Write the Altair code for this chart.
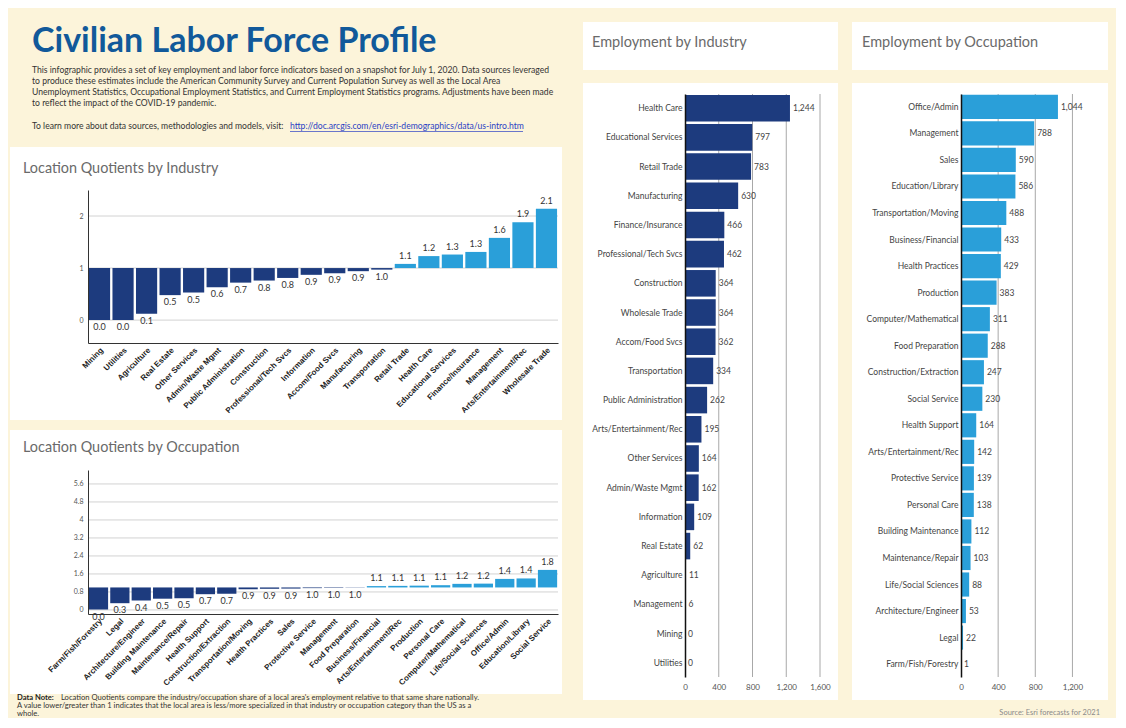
import altair as alt
import pandas as pd

# ---------------- data ----------------
main_title = "Civilian Labor Force Profile"
intro_lines = [
    "This infographic provides a set of key employment and labor force indicators based on a snapshot for July 1, 2020. Data sources leveraged",
    "to produce these estimates include the American Community Survey and Current Population Survey as well as the Local Area",
    "Unemployment Statistics, Occupational Employment Statistics, and Current Employment Statistics programs. Adjustments have been made",
    "to reflect the impact of the COVID-19 pandemic.",
]
learn_prefix = "To learn more about data sources, methodologies and models, visit:"
learn_link = "http://doc.arcgis.com/en/esri-demographics/data/us-intro.htm"
note_bold = "Data Note:"
note_lines = [
    "Location Quotients compare the industry/occupation share of a local area's employment relative to that same share nationally.",
    "A value lower/greater than 1 indicates that the local area is less/more specialized in that industry or occupation category than the US as a",
    "whole.",
]
source_text = "Source: Esri forecasts for 2021"

ind_lq_names = ["Mining", "Utilities", "Agriculture", "Real Estate", "Other Services",
                "Admin/Waste Mgmt", "Public Administration", "Construction",
                "Professional/Tech Svcs", "Information", "Accom/Food Svcs", "Manufacturing",
                "Transportation", "Retail Trade", "Health Care", "Educational Services",
                "Finance/Insurance", "Management", "Arts/Entertainment/Rec", "Wholesale Trade"]
ind_lq_vals = [0.0, 0.0, 0.12, 0.48, 0.53, 0.63, 0.72, 0.76, 0.81, 0.87, 0.9, 0.94,
               0.97, 1.08, 1.23, 1.26, 1.31, 1.58, 1.88, 2.14]

occ_lq_names = ["Farm/Fish/Forestry", "Legal", "Architecture/Engineer", "Building Maintenance",
                "Maintenance/Repair", "Health Support", "Construction/Extraction",
                "Transportation/Moving", "Health Practices", "Sales", "Protective Service",
                "Management", "Food Preparation", "Business/Financial", "Arts/Entertainment/Rec",
                "Production", "Personal Care", "Computer/Mathematical", "Life/Social Sciences",
                "Office/Admin", "Education/Library", "Social Service"]
occ_lq_vals = [0.02, 0.3, 0.42, 0.5, 0.52, 0.7, 0.72, 0.92, 0.94, 0.95, 0.97, 0.98, 0.99,
               1.06, 1.07, 1.08, 1.1, 1.16, 1.17, 1.38, 1.4, 1.78]

ind_emp_names = ["Health Care", "Educational Services", "Retail Trade", "Manufacturing",
                 "Finance/Insurance", "Professional/Tech Svcs", "Construction", "Wholesale Trade",
                 "Accom/Food Svcs", "Transportation", "Public Administration",
                 "Arts/Entertainment/Rec", "Other Services", "Admin/Waste Mgmt", "Information",
                 "Real Estate", "Agriculture", "Management", "Mining", "Utilities"]
ind_emp_vals = [1244, 797, 783, 630, 466, 462, 364, 364, 362, 334, 262, 195, 164, 162, 109,
                62, 11, 6, 0, 0]

occ_emp_names = ["Office/Admin", "Management", "Sales", "Education/Library",
                 "Transportation/Moving", "Business/Financial", "Health Practices", "Production",
                 "Computer/Mathematical", "Food Preparation", "Construction/Extraction",
                 "Social Service", "Health Support", "Arts/Entertainment/Rec",
                 "Protective Service", "Personal Care", "Building Maintenance",
                 "Maintenance/Repair", "Life/Social Sciences", "Architecture/Engineer", "Legal",
                 "Farm/Fish/Forestry"]
occ_emp_vals = [1044, 788, 590, 586, 488, 433, 429, 383, 311, 288, 247, 230, 164, 142, 139,
                138, 112, 103, 88, 53, 22, 1]

ind_lq_ticks = [0, 1, 2]
occ_lq_ticks = [0, 0.8, 1.6, 2.4, 3.2, 4, 4.8, 5.6]
ind_emp_ticks = [0, 400, 800, 1200, 1600]
occ_emp_ticks = [0, 400, 800, 1200]

# ---------------- style ----------------
CREAM = "#fcf4da"
NAVY = "#1d3b7e"
LIGHT = "#2a9fd9"
TITLE_BLUE = "#11599a"
PANEL_TITLE = "#6a6a6a"
LINK_BLUE = "#2b3fc4"
FONT = "Lato"

one = pd.DataFrame({"k": [0]})


def panel(x1, x2, y1, y2, fill="white"):
    return alt.Chart(one).mark_rect(fill=fill).encode(
        x=alt.value(x1), x2=alt.value(x2), y=alt.value(y1), y2=alt.value(y2))


def label(text, x, y, **kw):
    return alt.Chart(one).mark_text(text=text, **kw).encode(x=alt.value(x), y=alt.value(y))


# ---------------- header (origin aligned with the plots: page x=88, y=94) ----------------
header = alt.layer(
    panel(-78, 481, -72, 43, fill=CREAM),
    label(main_title, -56, -42, font=FONT, fontSize=34, fontWeight="bold", color=TITLE_BLUE,
          align="left", baseline="alphabetic"),
    label(intro_lines, -56, -28, font=FONT, fontSize=8.6, color="#333", align="left",
          baseline="top", lineHeight=11),
    label(learn_prefix, -56, 32, font=FONT, fontSize=8.6, color="#333", align="left",
          baseline="middle"),
    label(learn_link, 202, 32, font=FONT, fontSize=8.6, color=LINK_BLUE, align="left",
          baseline="middle"),
    alt.Chart(one).mark_rule(color=LINK_BLUE, strokeWidth=0.7).encode(
        x=alt.value(202), x2=alt.value(435), y=alt.value(37.5)),
).properties(width=470, height=43)


# ---------------- location quotient charts ----------------
def lq_chart(names, vals, ticks, title, width, height, domain, rect, title_xy, extra):
    df = pd.DataFrame({"name": names, "v": vals})
    xax = alt.Axis(title=None, labelAngle=-45, ticks=False, domainColor="#333",
                   labelFont="Liberation Sans", labelFontSize=8, labelFontWeight="bold",
                   labelColor="#222", labelPadding=3, zindex=1, labelLimit=200)
    yax = alt.Axis(title=None, values=ticks, format=".1~f", ticks=False, domainColor="#333",
                   labelFont=FONT, labelFontSize=7, labelColor="#555", labelPadding=5,
                   grid=False, zindex=1)
    xenc = alt.X("name:N", sort=names, axis=xax,
                 scale=alt.Scale(paddingInner=0.1, paddingOuter=0.04))
    ysc = alt.Scale(domain=domain, nice=False, zero=False)
    yenc = alt.Y("v:Q", scale=ysc, axis=yax)
    grid = alt.Chart(pd.DataFrame({"t": ticks})).mark_rule(color="#d2d2d2").encode(
        y=alt.Y("t:Q", scale=ysc, axis=yax))
    bars = alt.Chart(df).mark_bar().encode(
        x=xenc, y=yenc, y2=alt.datum(1),
        color=alt.condition(alt.datum.v < 1, alt.value(NAVY), alt.value(LIGHT)))
    lo = alt.Chart(df).transform_filter(alt.datum.v < 1).mark_text(
        baseline="top", dy=3, font=FONT, fontSize=9, color="#333").encode(
        x=xenc, y=yenc, text=alt.Text("v:Q", format=".1f"))
    hi = alt.Chart(df).transform_filter(alt.datum.v >= 1).mark_text(
        baseline="bottom", dy=-3, font=FONT, fontSize=9, color="#333").encode(
        x=xenc, y=yenc, text=alt.Text("v:Q", format=".1f"))
    return alt.layer(
        *extra,
        panel(*rect),
        label(title, title_xy[0], title_xy[1], font=FONT, fontSize=14.4, color=PANEL_TITLE,
              align="left", baseline="middle"),
        grid, bars, lo, hi,
    ).properties(width=width, height=height)


# data note lives below the occupation LQ panel (plot origin at page x=88, y=470)
note_layers = [
    panel(-78, 481, -40, 244, fill=CREAM),
    label(note_bold, -71, 228, font=FONT, fontSize=7.6, fontWeight="bold", color="#222",
          align="left", baseline="middle"),
    label(note_lines[0], -27, 228, font=FONT, fontSize=7.6, color="#333", align="left",
          baseline="middle"),
    label(note_lines[1:], -71, 232, font=FONT, fontSize=7.6, color="#333", align="left",
          baseline="top", lineHeight=8),
]

lq_ind = lq_chart(ind_lq_names, ind_lq_vals, ind_lq_ticks, "Location Quotients by Industry",
                  470, 153, [-0.44, 2.5], (-78, 474, -43, 230), (-65, -21), [])
lq_occ = lq_chart(occ_lq_names, occ_lq_vals, occ_lq_ticks, "Location Quotients by Occupation",
                  470, 144, [-0.18, 6.22], (-78, 474, -40, 224), (-65, -22), note_layers)


# ---------------- employment charts ----------------
def emp_chart(names, vals, ticks, color, title, width, xmax, x1, x2, title_x, extra=None):
    height = 583
    df = pd.DataFrame({"name": names, "v": vals})
    yax = alt.Axis(title=None, ticks=False, domainColor="#111", domainWidth=1.5,
                   labelFont=FONT, labelFontSize=8.5, labelColor="#444", labelPadding=3,
                   zindex=1, labelLimit=200)
    xax = alt.Axis(title=None, values=ticks, format=",.0f", ticks=False, domain=False,
                   grid=False, labelFont=FONT, labelFontSize=8, labelColor="#555",
                   labelPadding=6, labelFlush=False, zindex=1)
    yenc = alt.Y("name:N", sort=names, axis=yax,
                 scale=alt.Scale(paddingInner=0.09, paddingOuter=0.03))
    xsc = alt.Scale(domain=[0, xmax], nice=False, zero=True)
    grid = alt.Chart(pd.DataFrame({"t": ticks[1:]})).mark_rule(color="#a8a8a8").encode(
        x=alt.X("t:Q", scale=xsc, axis=xax))
    bars = alt.Chart(df).mark_bar(color=color).encode(
        y=yenc, x=alt.X("v:Q", scale=xsc, axis=xax))
    txt = alt.Chart(df).mark_text(align="left", dx=3, font=FONT, fontSize=8.5,
                                  color="#444").encode(
        y=yenc, x=alt.X("v:Q", scale=xsc, axis=xax), text=alt.Text("v:Q", format=",.0f"))
    layers = [
        panel(x1, x2, -72, -24),
        panel(x1, x2, -11, 606),
        label(title, title_x, -51, font=FONT, fontSize=14.5, color=PANEL_TITLE,
              align="left", baseline="middle"),
        grid, bars, txt,
    ]
    if extra is not None:
        layers.append(extra)
    return alt.layer(*layers).properties(width=width, height=height)


emp_ind = emp_chart(ind_emp_names, ind_emp_vals, ind_emp_ticks, NAVY, "Employment by Industry",
                    135, 1600, -102, 153, -93)
emp_occ = emp_chart(occ_emp_names, occ_emp_vals, occ_emp_ticks, LIGHT,
                    "Employment by Occupation", 130, 1400, -109, 147, -99,
                    extra=label(source_text, 139, 619, font=FONT, fontSize=7.5,
                                color="#8a8a8a", align="right", baseline="middle"))

left = alt.vconcat(header, lq_ind, lq_occ, spacing=10)

chart = alt.hconcat(left, emp_ind, emp_occ, spacing=14).properties(
    padding={"left": 2, "top": 14, "right": 8, "bottom": 0},
    background=CREAM,
).configure_view(stroke=None)

chart.save("out.html", embed_options={"renderer": "svg", "actions": False})
